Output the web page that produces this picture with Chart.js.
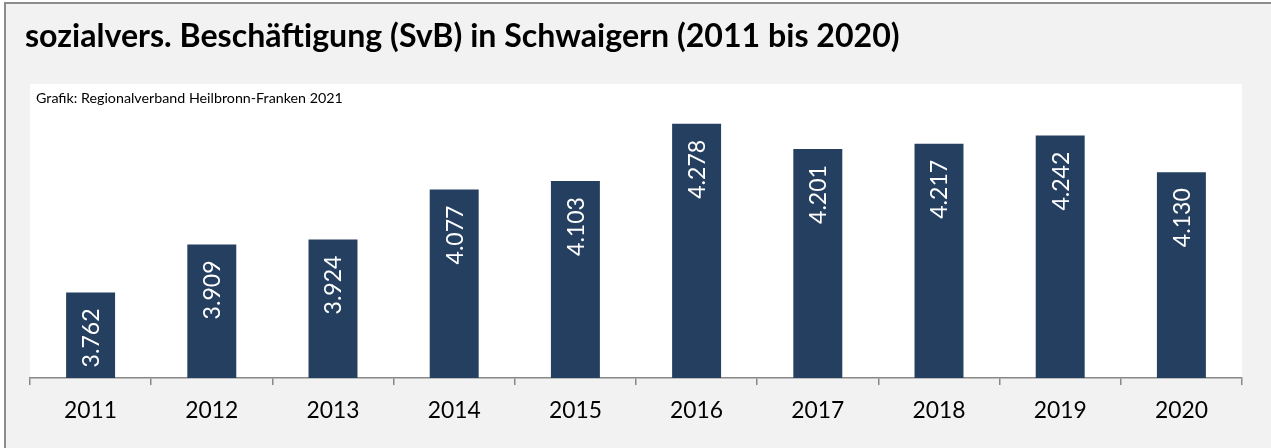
<!DOCTYPE html>
<html>
<head>
<meta charset="utf-8">
<script src="https://cdn.jsdelivr.net/npm/chart.js@4.4.1/dist/chart.umd.min.js"></script>
<style>
  html, body { margin: 0; padding: 0; background: #fff; }
  canvas { display: block; }
</style>
</head>
<body>
<canvas id="svbChart" width="1271" height="448"></canvas>
<script>
// data
const years = ["2011", "2012", "2013", "2014", "2015", "2016", "2017", "2018", "2019", "2020"];
const employees = [3762, 3909, 3924, 4077, 4103, 4278, 4201, 4217, 4242, 4130];
const yMin = 3500;
const yMax = 4400;

const titleText = "sozialvers. Beschäftigung (SvB) in Schwaigern (2011 bis 2020)";
const sourceText = "Grafik: Regionalverband Heilbronn-Franken 2021";

const FONT = "Lato";
const barColor = "#243f60";
const axisColor = "#888888";

// 4278 -> "4.278"
function fmt(v) {
  return String(v).replace(/\B(?=(\d{3})+(?!\d))/g, ".");
}

// pick a font size so the text gets the width seen in the picture
const measureCtx = document.createElement("canvas").getContext("2d");
function fitSize(text, weight, targetW) {
  measureCtx.font = `${weight} 100px ${FONT}`;
  return 100 * targetW / measureCtx.measureText(text).width;
}

const titleSize = fitSize(titleText, "bold", 875);
const sourceSize = fitSize(sourceText, "normal", 307);
const tickSize = fitSize("2015", "normal", 53);
const barLabelSize = fitSize("4.278", "normal", 59);

/* ===============================
   background, frame, titles
=============================== */
const frame = {
  id: "frame",
  beforeDraw(chart) {
    const { ctx, chartArea: a, width, height } = chart;
    ctx.save();
    ctx.fillStyle = "#ffffff";
    ctx.fillRect(0, 0, width, height);
    ctx.fillStyle = "#f2f2f2";
    ctx.fillRect(5, 3, width - 5, height - 3);
    ctx.strokeStyle = "#8c8c8c";
    ctx.lineWidth = 2;
    ctx.beginPath();
    ctx.moveTo(5, height);
    ctx.lineTo(5, 3);
    ctx.lineTo(width, 3);
    ctx.stroke();

    ctx.fillStyle = "#ffffff";
    ctx.fillRect(a.left, a.top, a.right - a.left, a.bottom - a.top);

    ctx.fillStyle = "#000000";
    ctx.textBaseline = "alphabetic";
    ctx.textAlign = "left";
    ctx.font = `bold ${titleSize}px ${FONT}`;
    ctx.fillText(titleText, 25, 47);
    ctx.font = `normal ${sourceSize}px ${FONT}`;
    ctx.fillText(sourceText, 36, 103);
    ctx.restore();
  }
};

/* ===============================
   vertical value labels in bars
=============================== */
const barLabels = {
  id: "barLabels",
  afterDatasetsDraw(chart) {
    const { ctx } = chart;
    const meta = chart.getDatasetMeta(0);
    ctx.save();
    ctx.font = `normal ${barLabelSize}px ${FONT}`;
    ctx.fillStyle = "#ffffff";
    ctx.textAlign = "right";
    ctx.textBaseline = "alphabetic";
    const capH = barLabelSize * 0.72;
    meta.data.forEach((bar, i) => {
      const txt = fmt(employees[i]);
      const len = ctx.measureText(txt).width;
      const start = Math.min(bar.y + 16, bar.base - 18 - len);
      ctx.save();
      ctx.translate(bar.x, start);
      ctx.rotate(-Math.PI / 2);
      ctx.fillText(txt, 0, capH / 2);
      ctx.restore();
    });
    ctx.restore();
  }
};

new Chart(document.getElementById("svbChart"), {
  type: "bar",
  data: {
    labels: years,
    datasets: [{
      data: employees,
      backgroundColor: barColor,
      borderWidth: 0,
      barPercentage: 0.404,
      categoryPercentage: 1
    }]
  },
  options: {
    responsive: false,
    animation: false,
    devicePixelRatio: 1,
    layout: { padding: { left: 30, right: 29, top: 84, bottom: 0 } },
    plugins: {
      legend: { display: false },
      tooltip: { enabled: false },
      title: { display: false }
    },
    scales: {
      x: {
        grid: {
          drawOnChartArea: false,
          drawTicks: true,
          tickLength: 7,
          color: axisColor,
          lineWidth: 1.5
        },
        border: { display: true, color: axisColor, width: 1.5 },
        ticks: {
          color: "#000000",
          font: { family: FONT, size: tickSize },
          padding: 12,
          maxRotation: 0
        },
        afterFit(scale) { scale.height = 70; }
      },
      y: {
        display: false,
        min: yMin,
        max: yMax
      }
    }
  },
  plugins: [frame, barLabels]
});
</script>
</body>
</html>
